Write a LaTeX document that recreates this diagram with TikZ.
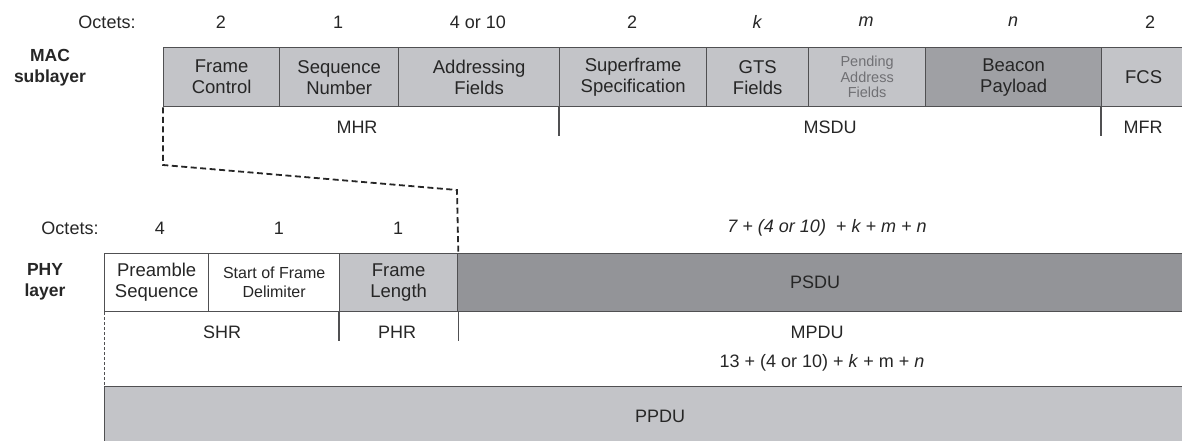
\documentclass[tikz,border=0pt]{standalone}
\usepackage{fontspec}
\setmainfont{Liberation Sans}
\definecolor{lightfill}{HTML}{C3C4C8}
\definecolor{darkfill}{HTML}{9FA0A4}
\definecolor{psdufill}{HTML}{939498}
\definecolor{edgecol}{HTML}{505052}
\definecolor{txtcol}{HTML}{262626}
\definecolor{pendcol}{HTML}{707074}
\tikzset{
  field/.style={draw=edgecol, line width=1.3pt, anchor=north west, inner sep=0pt,
    align=center, text=txtcol, font=\fontsize{18.5}{21}\selectfont},
  lbl/.style={text=txtcol, inner sep=0pt, font=\fontsize{18}{21}\selectfont},
  side/.style={text=txtcol, inner sep=0pt, align=center, font=\bfseries\fontsize{17.5}{21}\selectfont},
  tick/.style={draw=edgecol, line width=1.1pt},
  dashlink/.style={draw=txtcol, line width=1.8pt, dash pattern=on 6pt off 3.5pt},
  thindash/.style={draw=edgecol, line width=0.9pt, dash pattern=on 3pt off 2pt},
}
\begin{document}
\begin{tikzpicture}[x=1pt,y=-1pt]
\useasboundingbox (0,0) rectangle (1182,441);

% ---- MAC sublayer ----
\node[lbl] (oct1) at (107,22) {Octets:};
\node[lbl] (o1a) at (221,22) {2};
\node[lbl] (o1b) at (338,22) {1};
\node[lbl] (o1c) at (478,22) {4 or 10};
\node[lbl] (o1d) at (632,22) {2};
\node[lbl] (o1e) at (757,22) {\itshape k};
\node[lbl] (o1f) at (866,22) {\itshape m};
\node[lbl] (o1g) at (1013,22) {\itshape n};
\node[lbl] (o1h) at (1150,22) {2};
\node[side] (mac) at (50,68) {MAC\\sublayer};

\node[field, fill=lightfill, minimum width=116, minimum height=59] (fc) at (163,47) {Frame\\Control};
\node[field, fill=lightfill, minimum width=119, minimum height=59] (sn) at (279,47) {Sequence\\Number};
\node[field, fill=lightfill, minimum width=161, minimum height=59] (af) at (398,47) {Addressing\\Fields};
\node[field, fill=lightfill, minimum width=147, minimum height=59] (ss) at (559,47) {Superframe\\Specification};
\node[field, fill=lightfill, minimum width=102, minimum height=59] (gts) at (706,47) {GTS\\Fields};
\node[field, fill=lightfill, minimum width=117, minimum height=59, text=pendcol,
      font=\fontsize{14.5}{15.5}\selectfont] (paf) at (808,47) {Pending\\Address\\Fields};
\node[field, fill=darkfill, minimum width=176, minimum height=59] (bp) at (925,47) {Beacon\\Payload};
\node[field, fill=lightfill, minimum width=84, minimum height=59] (fcs) at (1101,47) {FCS};

\draw[tick] (ss.south west) -- ++(0,29) coordinate (t1);
\draw[tick] (fcs.south west) -- ++(0,29) coordinate (t2);
\node[lbl] (mhr) at (357,127) {MHR};
\node[lbl] (msdu) at (830,127) {MSDU};
\node[lbl] (mfr) at (1143,127) {MFR};

% ---- PHY layer ----
\node[lbl] (oct2) at (70,228) {Octets:};
\node[lbl] (o2a) at (160,228) {4};
\node[lbl] (o2b) at (279,228) {1};
\node[lbl] (o2c) at (398,228) {1};
\node[lbl] (o2d) at (827,228) {\itshape 7 + (4 or 10)\ \ + k + m + n};
\node[side] (phy) at (45,282) {PHY\\layer};

\node[field, fill=white, minimum width=104, minimum height=58] (pre) at (104,253) {Preamble\\Sequence};
\node[field, fill=white, minimum width=131, minimum height=58,
      font=\fontsize{16}{19}\selectfont] (sfd) at (208,253) {Start of Frame\\Delimiter};
\node[field, fill=lightfill, minimum width=118, minimum height=58] (fl) at (339,253) {Frame\\Length};
\node[field, fill=psdufill, minimum width=730, minimum height=58] (psdu) at (457,253) {};
\node[lbl] (psdutxt) at (815,282) {PSDU};

\draw[tick] (fl.south west) -- ++(0,29) coordinate (t3);
\draw[tick] (fl.south east) -- ++(0,29) coordinate (t4);
\node[lbl] (shr) at (222,332) {SHR};
\node[lbl] (phr) at (397,332) {PHR};
\node[lbl] (mpdu) at (817,332) {MPDU};
\node[lbl] (mlen) at (822,363) {13 + (4 or 10) + \textit{k} + m + \textit{n}};

\node[field, fill=lightfill, minimum width=1083, minimum height=60] (ppdu) at (104,386) {};
\node[lbl] (ppdutxt) at (660,416) {PPDU};

% ---- dashed links ----
\coordinate (bendA) at (163,165);
\coordinate (bendB) at (457,190);
\draw[dashlink] (fc.south west) -- (bendA) -- (bendB) -- (fl.north east);
\draw[thindash] (pre.south west) -- (ppdu.north west);
\end{tikzpicture}
\end{document}
